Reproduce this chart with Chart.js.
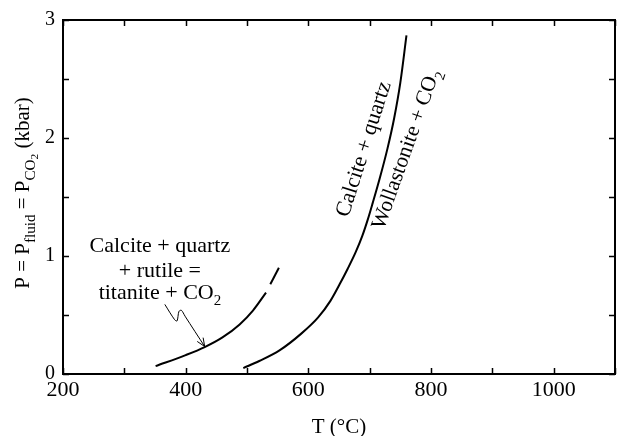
<!DOCTYPE html>
<html>
<head>
<meta charset="utf-8">
<script src="https://cdn.jsdelivr.net/npm/chart.js@4/dist/chart.umd.min.js"></script>
<style>
  html, body { margin: 0; padding: 0; background: #fff; }
</style>
</head>
<body>
<canvas id="phase" width="618" height="436"></canvas>
<script>
// reaction curves, T in °C and P in kbar
var rutileT = [351, 400, 431, 460, 488, 510, 531];
var rutileP = [0.067, 0.16, 0.228, 0.31, 0.42, 0.54, 0.69];
var rutileExtT = [538, 552];
var rutileExtP = [0.76, 0.90];
var wollT = [494, 520, 553, 588, 616, 636, 651, 664, 677, 688, 697, 705, 716, 729, 740, 750, 760];
var wollP = [0.05, 0.11, 0.20, 0.34, 0.48, 0.62, 0.76, 0.89, 1.03, 1.17, 1.31, 1.45, 1.65, 1.91, 2.17, 2.47, 2.87];
// pointer from the rutile label down to its curve
var arrowT = [366, 382, 386, 389, 393, 399, 431];
var arrowP = [0.59, 0.46, 0.45, 0.53, 0.54, 0.49, 0.233];

var xTickLabels = [200, 400, 600, 800, 1000];
var yTickLabels = [0, 1, 2, 3];

var SERIF = "'Liberation Serif', 'Times New Roman', serif";

function pts(xs, ys) {
  return xs.map(function (x, i) { return { x: x, y: ys[i] }; });
}

// text runs with subscript levels: [{t:'CO'}, {t:'2', sub:1}]
function richText(ctx, parts, x, y, size, subScale) {
  var sk = subScale || 0.68;
  function fs(p) { return p.sub === 2 ? size * sk * 0.75 : (p.sub ? size * sk : size); }
  function dy(p) { return p.sub === 2 ? size * 0.42 : (p.sub ? size * 0.28 : 0); }
  var w = 0;
  parts.forEach(function (p) {
    ctx.font = fs(p) + 'px ' + SERIF;
    w += ctx.measureText(p.t).width;
  });
  var cx = x - w / 2;
  ctx.textAlign = 'left';
  ctx.textBaseline = 'alphabetic';
  parts.forEach(function (p) {
    ctx.font = fs(p) + 'px ' + SERIF;
    ctx.fillText(p.t, cx, y + dy(p));
    cx += ctx.measureText(p.t).width;
  });
}

var decor = {
  id: 'decor',
  afterDraw: function (chart) {
    var ctx = chart.ctx;
    var a = chart.chartArea;
    var xs = chart.scales.x, ys = chart.scales.y;
    ctx.save();
    ctx.strokeStyle = '#000';
    ctx.fillStyle = '#000';

    // frame
    ctx.lineWidth = 2;
    ctx.strokeRect(a.left, a.top, a.right - a.left, a.bottom - a.top);

    // inward tick marks on all four sides
    ctx.lineWidth = 1.5;
    ctx.beginPath();
    xs.ticks.forEach(function (t) {
      var px = Math.round(xs.getPixelForValue(t.value)) + 0.5;
      ctx.moveTo(px, a.bottom); ctx.lineTo(px, a.bottom - 6);
      ctx.moveTo(px, a.top); ctx.lineTo(px, a.top + 6);
    });
    ys.ticks.forEach(function (t) {
      var py = Math.round(ys.getPixelForValue(t.value)) + 0.5;
      ctx.moveTo(a.left, py); ctx.lineTo(a.left + 6, py);
      ctx.moveTo(a.right, py); ctx.lineTo(a.right - 6, py);
    });
    ctx.stroke();

    // arrowhead on the pointer
    var n = arrowT.length;
    var x1 = xs.getPixelForValue(arrowT[n - 2]), y1 = ys.getPixelForValue(arrowP[n - 2]);
    var x2 = xs.getPixelForValue(arrowT[n - 1]), y2 = ys.getPixelForValue(arrowP[n - 1]);
    var ang = Math.atan2(y2 - y1, x2 - x1);
    ctx.lineWidth = 1;
    ctx.beginPath();
    ctx.moveTo(x2 - 9 * Math.cos(ang - 0.4), y2 - 9 * Math.sin(ang - 0.4));
    ctx.lineTo(x2, y2);
    ctx.lineTo(x2 - 9 * Math.cos(ang + 0.4), y2 - 9 * Math.sin(ang + 0.4));
    ctx.stroke();

    // rutile reaction label
    var lx = xs.getPixelForValue(358);
    richText(ctx, [{ t: 'Calcite + quartz' }], lx, ys.getPixelForValue(1.033), 22);
    richText(ctx, [{ t: '+ rutile =' }], lx, ys.getPixelForValue(0.825), 22);
    richText(ctx, [{ t: 'titanite + CO' }, { t: '2', sub: 1 }], lx, ys.getPixelForValue(0.633), 22);

    // labels along the wollastonite curve
    ctx.save();
    ctx.translate(xs.getPixelForValue(689), ys.getPixelForValue(1.908));
    ctx.rotate(-72.4 * Math.PI / 180);
    richText(ctx, [{ t: 'Calcite + quartz' }], 0, 7, 22);
    ctx.restore();
    ctx.save();
    ctx.translate(xs.getPixelForValue(758), ys.getPixelForValue(1.908));
    ctx.rotate(-70.5 * Math.PI / 180);
    richText(ctx, [{ t: 'Wollastonite + CO' }, { t: '2', sub: 1 }], 0, 7, 21.5);
    ctx.restore();

    // axis titles
    richText(ctx, [{ t: 'T (°C)' }], (a.left + a.right) / 2, 433, 21);
    ctx.save();
    ctx.translate(29, (a.top + a.bottom) / 2 - 4);
    ctx.rotate(-Math.PI / 2);
    richText(ctx, [
      { t: 'P = P' }, { t: 'fluid', sub: 1 },
      { t: ' = P' }, { t: 'CO', sub: 1 }, { t: '2', sub: 2 },
      { t: ' (kbar)' }
    ], 0, 0, 21, 0.72);
    ctx.restore();

    ctx.restore();
  }
};

var line = {
  showLine: true,
  borderColor: '#000',
  borderWidth: 2,
  pointRadius: 0,
  fill: false,
  cubicInterpolationMode: 'monotone'
};

new Chart(document.getElementById('phase'), {
  type: 'scatter',
  data: {
    datasets: [
      Object.assign({ label: 'rutile', data: pts(rutileT, rutileP) }, line),
      Object.assign({ label: 'rutile ext', data: pts(rutileExtT, rutileExtP) }, line),
      Object.assign({ label: 'wollastonite', data: pts(wollT, wollP) }, line),
      Object.assign({}, line, { label: 'arrow', data: pts(arrowT, arrowP), borderWidth: 1, cubicInterpolationMode: 'default', tension: 0.3 })
    ]
  },
  options: {
    responsive: false,
    animation: false,
    layout: { padding: { top: 14, right: 2, left: 0, bottom: 0 } },
    plugins: { legend: { display: false }, tooltip: { enabled: false } },
    scales: {
      x: {
        type: 'linear',
        min: 200, max: 1100,
        grid: { display: false, drawTicks: false },
        border: { display: false },
        afterFit: function (s) { s.height = 62; },
        ticks: {
          stepSize: 100,
          autoSkip: false,
          maxRotation: 0,
          padding: 3,
          color: '#000',
          font: { family: SERIF, size: 22 },
          callback: function (v) { return xTickLabels.indexOf(v) >= 0 ? String(v) : ''; }
        }
      },
      y: {
        type: 'linear',
        min: 0, max: 3,
        grid: { display: false, drawTicks: false },
        border: { display: false },
        afterFit: function (s) { s.width = 63; },
        ticks: {
          stepSize: 0.5,
          autoSkip: false,
          padding: 8,
          color: '#000',
          font: { family: SERIF, size: 20 },
          callback: function (v) { return yTickLabels.indexOf(v) >= 0 ? String(v) : ''; }
        }
      }
    }
  },
  plugins: [decor]
});
</script>
</body>
</html>
